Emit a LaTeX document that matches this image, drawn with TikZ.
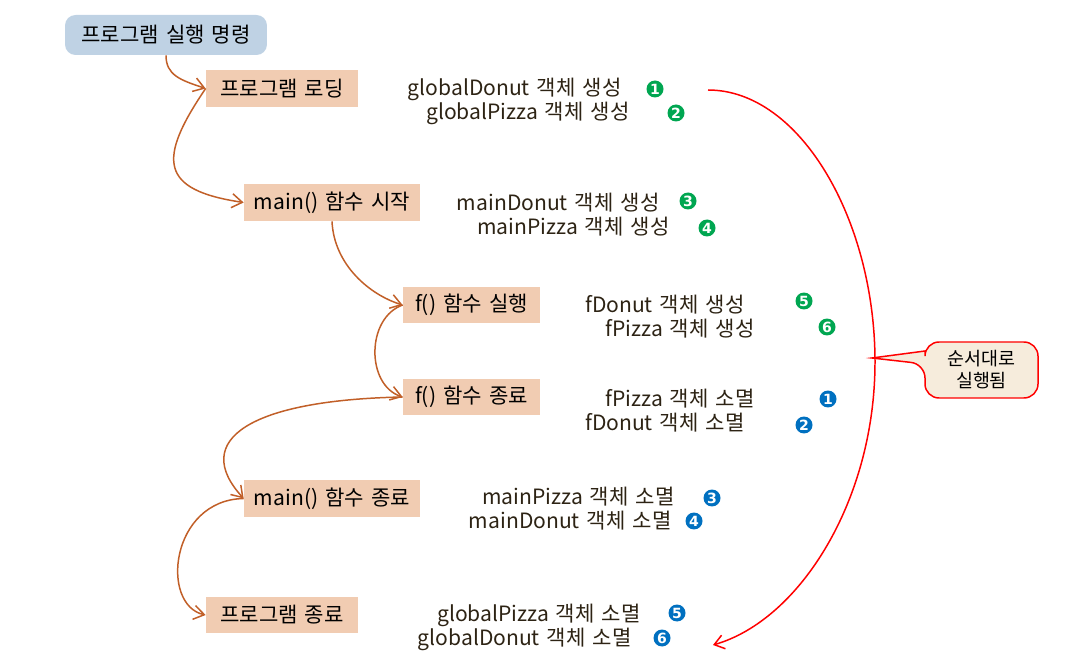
\documentclass[tikz,border=0pt]{standalone}
\usepackage{fontspec}
\setmainfont{Noto Sans CJK KR}[WordSpace=1.5]
\newfontfamily\numfont{DejaVu Sans}
\usetikzlibrary{arrows.meta}
\definecolor{stagefill}{RGB}{241,204,178}
\definecolor{cmdfill}{RGB}{191,210,228}
\definecolor{flow}{RGB}{193,95,40}
\definecolor{make}{RGB}{0,166,81}
\definecolor{kill}{RGB}{0,112,192}
\definecolor{notefill}{RGB}{246,236,220}
\definecolor{txt}{RGB}{45,35,20}
\newcommand{\bodyfont}{\fontsize{12}{14}\selectfont}

\begin{document}
\begin{tikzpicture}[x=0.02cm,y=-0.02cm,
  stage/.style={fill=stagefill,inner sep=0pt,minimum height=0.74cm,font=\bodyfont},
  cmd/.style={fill=cmdfill,rounded corners=6pt,inner sep=0pt,minimum width=4.04cm,minimum height=0.8cm,font=\bodyfont},
  flw/.style={flow,line width=0.85pt,-{Straight Barb[length=6pt,width=8pt]}},
  ord/.style={red,line width=0.85pt,-{Straight Barb[length=5.5pt,width=8pt]}},
  desc/.style={anchor=east,text=txt,inner sep=0pt,font=\bodyfont},
  num/.style={circle,inner sep=0pt,minimum size=0.34cm,text=white,font=\numfont\bfseries\fontsize{8}{8}\selectfont},
  mk/.style={num,fill=make},
  kl/.style={num,fill=kill}]
\useasboundingbox (0,0) rectangle (1092,658);
% stages
\node[cmd] (cmd) at (166,35) {프로그램 실행 명령};
\node[stage,minimum width=3.04cm] (load) at (282,88.5) {프로그램 로딩};
\node[stage,minimum width=3.52cm] (mstart) at (332,202.5) {main() 함수 시작};
\node[stage,minimum width=2.74cm] (frun) at (471.5,305) {f() 함수 실행};
\node[stage,minimum width=2.74cm] (fend) at (471.5,397) {f() 함수 종료};
\node[stage,minimum width=3.52cm] (mend) at (332,498.5) {main() 함수 종료};
\node[stage,minimum width=3.04cm] (pend) at (282,615) {프로그램 종료};
% flow
\draw[flw] (cmd.south) .. controls (166,75) and (180,80) .. (load.west);
\draw[flw] (load.west) .. controls (157,160) and (160,190) .. (mstart.west);
\draw[flw] (mstart.south) .. controls (334,265) and (370,295) .. (frun.west);
\draw[flw] (frun.west) .. controls (366,318) and (366,385) .. (fend.west);
\draw[flw] (fend.west) .. controls (250,400) and (190,440) .. (mend.west);
\draw[flw] (mend.west) .. controls (170,500) and (160,605) .. (pend.west);
% created
\node[desc] (gd) at (622,89) {globalDonut 객체 생성};
\node[desc] (gp) at (630,113) {globalPizza 객체 생성};
\node[desc] (md) at (660,203) {mainDonut 객체 생성};
\node[desc] (mp) at (670,227) {mainPizza 객체 생성};
\node[desc] (fd) at (745,305) {fDonut 객체 생성};
\node[desc] (fp) at (755,329) {fPizza 객체 생성};
\node[mk] (c1) at (655,89) {1};
\node[mk] (c2) at (676,113) {2};
\node[mk] (c3) at (688,201) {3};
\node[mk] (c4) at (707,228) {4};
\node[mk] (c5) at (804,301) {5};
\node[mk] (c6) at (827,327) {6};
% destroyed
\node[desc] (xfp) at (755,399) {fPizza 객체 소멸};
\node[desc] (xfd) at (745,423) {fDonut 객체 소멸};
\node[desc] (xmp) at (675,497) {mainPizza 객체 소멸};
\node[desc] (xmd) at (672,521) {mainDonut 객체 소멸};
\node[desc] (xgp) at (641,615) {globalPizza 객체 소멸};
\node[desc] (xgd) at (632,639) {globalDonut 객체 소멸};
\node[kl] (d1) at (828,399) {1};
\node[kl] (d2) at (804,425) {2};
\node[kl] (d3) at (712,498) {3};
\node[kl] (d4) at (694,521) {4};
\node[kl] (d5) at (677,613) {5};
\node[kl] (d6) at (662,638) {6};
% order
\coordinate (top) at (708,90);
\coordinate (mid) at (875,362);
\coordinate (bot) at (713,645);
\draw[ord] (top) .. controls (800,90) and (875,220) .. (mid)
  .. controls (875,500) and (800,620) .. (bot);
\draw[red,line width=0.85pt,fill=notefill] (872,358) -- (925,351)
  [rounded corners=8pt] |- (1038,342) |- (925,398) -- (925,364) [sharp corners] -- cycle;
\node[align=center,font=\fontsize{10.5}{12.5}\selectfont] (order) at (981.5,370) {순서대로\\실행됨};
\end{tikzpicture}
\end{document}
